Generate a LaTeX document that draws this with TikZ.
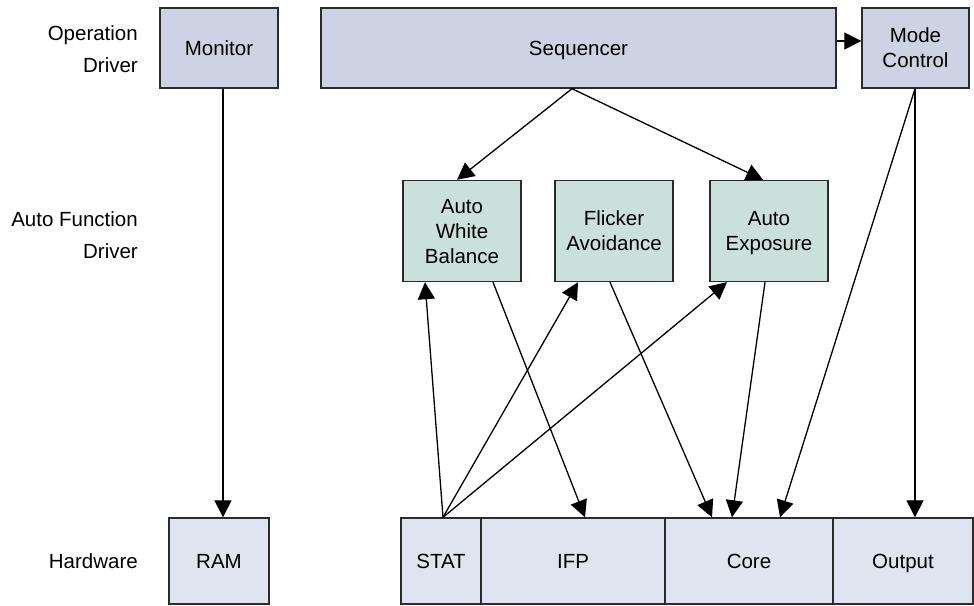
\documentclass[tikz,border=0pt]{standalone}
\usepackage{fontspec}
\setmainfont{Liberation Sans}
\usetikzlibrary{arrows.meta,calc}
\definecolor{topfill}{HTML}{CDD3E2}
\definecolor{midfill}{HTML}{C9E0DB}
\definecolor{botfill}{HTML}{E0E4F0}
\definecolor{edge}{HTML}{2B2B2B}
\begin{document}
\begin{tikzpicture}[x=1pt,y=-1pt,
  box/.style={draw=edge,line width=1.4pt,rectangle,inner sep=0pt,align=center,
    text depth=0pt,font=\fontsize{20.5}{25}\selectfont},
  topbox/.style={box,fill=topfill},
  midbox/.style={box,fill=midfill},
  botbox/.style={box,fill=botfill},
  lvl/.style={anchor=east,align=right,inner sep=0pt,font=\fontsize{20.5}{31.5}\selectfont},
  conn/.style={draw=black,line width=1.3pt,-{Triangle[length=17pt,width=17pt]}}]
\useasboundingbox (0,0) rectangle (974,605);
% level labels
\node[lvl] (l1) at (138,49) {Operation\\Driver};
\node[lvl] (l2) at (138,235) {Auto Function\\Driver};
\node[lvl] (l3) at (138,561) {Hardware};
% top row
\node[topbox,minimum width=118pt,minimum height=80pt] (mon) at (219,48) {Monitor};
\node[topbox,minimum width=515pt,minimum height=80pt] (seq) at (578.5,48) {Sequencer};
\node[topbox,minimum width=107pt,minimum height=80pt] (mode) at (915.5,48) {Mode\\Control};
% middle row
\node[midbox,minimum width=118pt,minimum height=101pt] (awb) at (462,231) {Auto\\White\\Balance};
\node[midbox,minimum width=118pt,minimum height=101pt] (fa) at (614,231) {Flicker\\Avoidance};
\node[midbox,minimum width=118pt,minimum height=101pt] (ae) at (769,231) {Auto\\Exposure};
% bottom row
\node[botbox,minimum width=100pt,minimum height=86pt] (ram) at (219,561) {RAM};
\node[botbox,minimum width=80pt,minimum height=86pt] (stat) at (441,561) {STAT};
\node[botbox,minimum width=184pt,minimum height=86pt] (ifp) at (573,561) {IFP};
\node[botbox,minimum width=168pt,minimum height=86pt] (core) at (749,561) {Core};
\node[botbox,minimum width=140pt,minimum height=86pt] (out) at (903,561) {Output};
% connectors
\draw[conn] ($(mon.south)+(4,0)$) -- ($(ram.north)+(4,0)$);
\draw[conn] ($(seq.east)+(0,-7)$) -- ($(mode.west)+(0,-7)$);
\draw[conn] ($(seq.south)+(-6.5,0)$) -- ($(awb.north)+(-5,0)$);
\draw[conn] ($(seq.south)+(-6.5,0)$) -- ($(ae.north)+(-6,0)$);
\draw[conn] ($(mode.south)+(-0.5,0)$) -- ($(core.north)+(31,0)$);
\draw[conn] ($(mode.south)+(-0.5,0)$) -- ($(out.north)+(12,0)$);
\draw[conn] ($(awb.south)+(31,0)$) -- ($(ifp.north)+(12,0)$);
\draw[conn] ($(fa.south)+(-4,0)$) -- ($(core.north)+(-37,0)$);
\draw[conn] ($(ae.south)+(-4,0)$) -- ($(core.north)+(-17,0)$);
\draw[conn] ($(stat.north)+(2,0)$) -- ($(awb.south)+(-37,0)$);
\draw[conn] ($(stat.north)+(2,0)$) -- ($(fa.south)+(-36,0)$);
\draw[conn] ($(stat.north)+(2,0)$) -- ($(ae.south)+(-42,0)$);
\end{tikzpicture}
\end{document}
